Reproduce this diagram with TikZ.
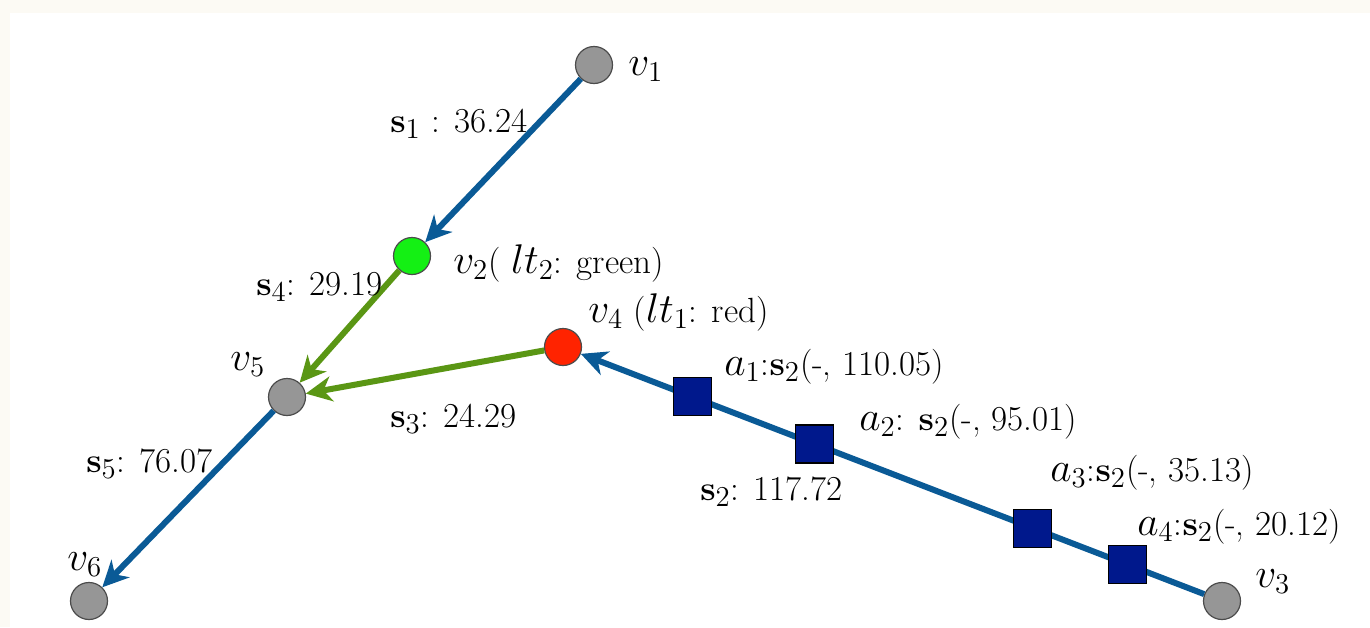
\documentclass[tikz,border=0pt]{standalone}
\usepackage{amsmath,amssymb}
\usepackage{tikz}
\usetikzlibrary{arrows.meta,calc}

\definecolor{pagecream}{RGB}{252,250,244}
\definecolor{flowblue}{RGB}{10,90,150}
\definecolor{flowgreen}{RGB}{90,150,20}
\definecolor{vgray}{RGB}{150,150,150}
\definecolor{ltgreen}{RGB}{20,240,20}
\definecolor{ltred}{RGB}{255,35,0}
\definecolor{anchornavy}{RGB}{0,24,140}
% math in the labels is set a little larger than the text
\newcommand{\mlbl}[1]{{\fontsize{20.5}{24}\selectfont$#1$}}
\newcommand{\slbl}[1]{{\fontsize{19}{22}\selectfont$\mathbf{s}_{#1}$}}

\begin{document}
\begin{tikzpicture}[x=0.5pt, y=-0.5pt, line cap=round,
    font=\fontsize{17.5}{20}\selectfont,
    vtx/.style={circle, draw=black!70, line width=0.6pt, minimum size=18.5pt, inner sep=0pt, fill=vgray},
    anchorbox/.style={rectangle, draw=black, line width=0.6pt, minimum size=19pt, inner sep=0pt, fill=anchornavy},
    flow/.style={line width=3pt, line cap=butt, -{Stealth[length=13pt, width=12.5pt, inset=4pt]}},
    lbl/.style={anchor=base west, inner sep=0pt}]
  % ===== page =====
  \fill[pagecream] (0,0) rectangle (1370,627);
  \fill[white] (10,13) rectangle (1370,627);
  \useasboundingbox (0,0) rectangle (1370,627);
  % ===== vertices =====
  \node[vtx] (v1) at (594,65) {};
  \node[vtx, fill=ltgreen] (v2) at (412,256) {};
  \node[vtx, fill=ltred] (v4) at (563,347) {};
  \node[vtx] (v5) at (287,397) {};
  \node[vtx] (v6) at (89,601) {};
  \node[vtx] (v3) at (1222,601) {};
  % ===== flows =====
  \draw[flow, flowblue] (v1) -- (v2);
  \draw[flow, flowgreen] (v2) -- (v5);
  \draw[flow, flowgreen] (v4) -- (v5);
  \draw[flow, flowblue] (v5) -- (v6);
  \draw[flow, flowblue] (v3) -- (v4);
  % anchors on s2
  \node[anchorbox] (a1) at ($(v4)!0.196!(v3)$) {};
  \node[anchorbox] (a2) at ($(v4)!0.382!(v3)$) {};
  \node[anchorbox] (a3) at ($(v4)!0.713!(v3)$) {};
  \node[anchorbox] (a4) at ($(v4)!0.857!(v3)$) {};
  % ===== labels =====
  \node[lbl] (v1lbl) at (628,75) {\mlbl{v_1}};
  \node[lbl] (v2lbl) at (453,273) {\mlbl{v_2}( \mlbl{lt_2}: green)};
  \node[lbl] (v4lbl) at (588,322) {\mlbl{v_4} (\mlbl{lt_1}: red)};
  \node[lbl] (v5lbl) at (230,370) {\mlbl{v_5}};
  \node[lbl] (v6lbl) at (67,570) {\mlbl{v_6}};
  \node[lbl] (v3lbl) at (1255,587) {\mlbl{v_3}};
  \node[lbl] (s1lbl) at (390,132) {\slbl{1} : 36.24};
  \node[lbl] (s4lbl) at (256,295) {\slbl{4}: 29.19};
  \node[lbl] (s3lbl) at (390,427) {\slbl{3}: 24.29};
  \node[lbl] (s5lbl) at (86,472) {\slbl{5}: 76.07};
  \node[lbl] (s2lbl) at (700,500) {\slbl{2}: 117.72};
  \node[lbl] (a1lbl) at (724,375) {\mlbl{a_1}:\slbl{2}(-, 110.05)};
  \node[lbl] (a2lbl) at (859,430) {\mlbl{a_2}: \slbl{2}(-, 95.01)};
  \node[lbl] (a3lbl) at (1050,481) {\mlbl{a_3}:\slbl{2}(-, 35.13)};
  \node[lbl] (a4lbl) at (1137,535) {\mlbl{a_4}:\slbl{2}(-, 20.12)};
\end{tikzpicture}
\end{document}
